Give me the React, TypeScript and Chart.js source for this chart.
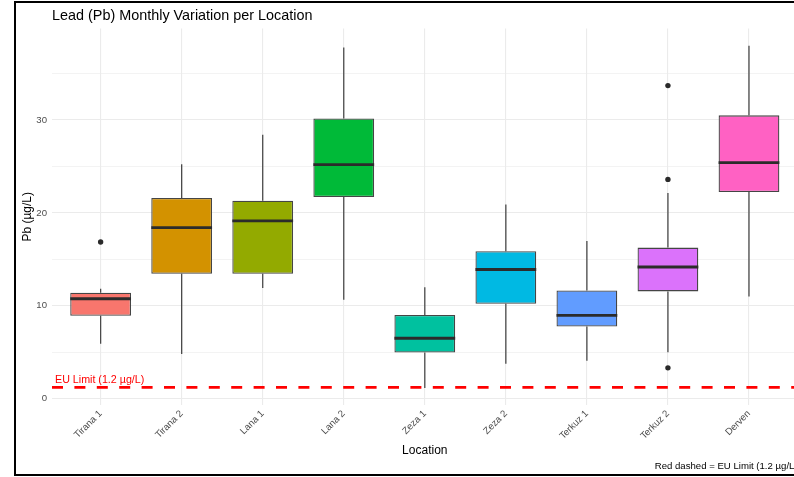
import React, { useEffect, useRef } from "react";
import { Chart, registerables } from "chart.js";

Chart.register(...registerables);

// ---------- data ----------
const LOCATIONS = ["Tirana 1", "Tirana 2", "Lana 1", "Lana 2", "Zeza 1", "Zeza 2", "Terkuz 1", "Terkuz 2", "Derven"];
const LOWER_WHISKER = [5.9, 4.8, 11.9, 10.65, 1.15, 3.74, 4.07, 5.0, 11.0];
const Q1 = [8.92, 13.45, 13.45, 21.7, 4.96, 10.2, 7.77, 11.54, 22.25];
const MEDIAN = [10.75, 18.4, 19.13, 25.2, 6.5, 13.9, 8.95, 14.17, 25.4];
const Q3 = [11.4, 21.6, 21.3, 30.17, 9.0, 15.86, 11.65, 16.26, 30.5];
const UPPER_WHISKER = [11.83, 25.24, 28.4, 37.8, 12.0, 20.9, 16.97, 22.15, 38.0];
const OUTLIER_LOCATION = [0, 7, 7, 7];
const OUTLIER_VALUE = [16.86, 33.7, 23.6, 3.31];
const FILL_COLORS = ["#F8766D", "#D39200", "#93AA00", "#00BA38", "#00C19F", "#00B9E3", "#619CFF", "#DB72FB", "#FF61C3"];
const EU_LIMIT = 1.2;
const Y_GRID_TICKS = [0, 5, 10, 15, 20, 25, 30, 35];
const Y_LABEL_TICKS = [0, 10, 20, 30];

const TITLE = "Lead (Pb) Monthly Variation per Location";
const X_TITLE = "Location";
const Y_TITLE = "Pb (µg/L)";
const CAPTION = "Red dashed = EU Limit (1.2 µg/L)";
const EU_LABEL = "EU Limit (1.2 µg/L)";

// scale ranges (ggplot-style expansion)
const X_MIN = -0.6;
const X_MAX = LOCATIONS.length - 1 + 0.6;
const Y_MIN = -0.69;
const Y_MAX = 39.84;

const FONT = "'Liberation Sans', Arial, Helvetica, sans-serif";
const CANVAS_W = 806;
const CANVAS_H = 477;

export default function App() {
  const ref = useRef<HTMLCanvasElement | null>(null);

  useEffect(() => {
    const canvas = ref.current;
    if (!canvas) return;

    const boxData = LOCATIONS.map((_, i) => ({ x: i, y: [Q1[i], Q3[i]] }));
    const whiskerData: { x: number; y: number | null }[] = [];
    LOCATIONS.forEach((_, i) => {
      whiskerData.push({ x: i, y: LOWER_WHISKER[i] });
      whiskerData.push({ x: i, y: Q1[i] });
      whiskerData.push({ x: i, y: null });
      whiskerData.push({ x: i, y: Q3[i] });
      whiskerData.push({ x: i, y: UPPER_WHISKER[i] });
      whiskerData.push({ x: i, y: null });
    });
    const outlierData = OUTLIER_VALUE.map((v, k) => ({ x: OUTLIER_LOCATION[k], y: v }));
    const euData = [
      { x: X_MIN, y: EU_LIMIT },
      { x: X_MAX, y: EU_LIMIT },
    ];

    const medianPlugin = {
      id: "medians",
      afterDatasetsDraw(chart: any) {
        const meta = chart.getDatasetMeta(0);
        const ys = chart.scales.y;
        const ctx = chart.ctx;
        ctx.save();
        ctx.strokeStyle = "#2b2b2b";
        ctx.lineWidth = 2.8;
        meta.data.forEach((el: any, i: number) => {
          const y = ys.getPixelForValue(MEDIAN[i]);
          ctx.beginPath();
          ctx.moveTo(el.x - el.width / 2, y);
          ctx.lineTo(el.x + el.width / 2, y);
          ctx.stroke();
        });
        ctx.restore();
      },
    };

    const textPlugin = {
      id: "texts",
      afterDraw(chart: any) {
        const ctx = chart.ctx;
        const area = chart.chartArea;
        const ys = chart.scales.y;
        ctx.save();
        // title
        ctx.fillStyle = "#000";
        ctx.font = `14.4px ${FONT}`;
        ctx.textAlign = "left";
        ctx.textBaseline = "alphabetic";
        ctx.fillText(TITLE, area.left, 19.5);
        // x title
        ctx.font = `12px ${FONT}`;
        ctx.textAlign = "center";
        ctx.fillText(X_TITLE, (area.left + area.right) / 2, 454);
        // y title
        ctx.save();
        ctx.translate(30.5, (area.top + area.bottom) / 2);
        ctx.rotate(-Math.PI / 2);
        ctx.textAlign = "center";
        ctx.fillText(Y_TITLE, 0, 0);
        ctx.restore();
        // caption
        ctx.font = `9.6px ${FONT}`;
        ctx.textAlign = "right";
        ctx.fillText(CAPTION, area.right, 468.5);
        // EU label
        ctx.fillStyle = "#FF0000";
        ctx.font = `10.7px ${FONT}`;
        ctx.textAlign = "left";
        ctx.fillText(EU_LABEL, area.left + 3, ys.getPixelForValue(EU_LIMIT) - 4);
        ctx.restore();
      },
    };

    const chart = new Chart(canvas, {
      type: "bar",
      data: {
        datasets: [
          {
            type: "bar",
            label: "box",
            data: boxData as any,
            backgroundColor: FILL_COLORS,
            borderColor: "#454545",
            borderWidth: 1.3,
            borderSkipped: false,
            barPercentage: 0.75,
            categoryPercentage: 1,
            order: 2,
          } as any,
          {
            type: "line",
            label: "whiskers",
            data: whiskerData as any,
            borderColor: "#4a4a4a",
            borderWidth: 1.3,
            pointRadius: 0,
            spanGaps: false,
            order: 3,
          } as any,
          {
            type: "scatter",
            label: "outliers",
            data: outlierData as any,
            backgroundColor: "#2a2a2a",
            borderWidth: 0,
            pointRadius: 2.7,
            order: 1,
          } as any,
          {
            type: "line",
            label: "eu",
            data: euData as any,
            borderColor: "#FF0000",
            borderWidth: 2.8,
            borderDash: [11, 11.4],
            pointRadius: 0,
            order: 0,
          } as any,
        ],
      },
      options: {
        responsive: false,
        maintainAspectRatio: false,
        animation: false,
        devicePixelRatio: 1,
        layout: { padding: { left: 0, top: 28.6, right: CANVAS_W - 797.6, bottom: 0 } },
        plugins: {
          legend: { display: false },
          tooltip: { enabled: false },
          title: { display: false },
        },
        scales: {
          x: {
            type: "linear",
            offset: false,
            min: X_MIN,
            max: X_MAX,
            afterBuildTicks: (s: any) => {
              s.ticks = LOCATIONS.map((_, i) => ({ value: i }));
            },
            afterFit: (s: any) => {
              s.height = 72;
            },
            ticks: {
              autoSkip: false,
              minRotation: 45,
              maxRotation: 45,
              padding: 3,
              color: "#4D4D4D",
              font: { family: FONT, size: 9.6 },
              callback: (v: any) => LOCATIONS[Number(v)] ?? "",
            },
            grid: { color: "#EBEBEB", lineWidth: 1.1, drawTicks: false, offset: false },
            border: { display: false },
          },
          y: {
            type: "linear",
            min: Y_MIN,
            max: Y_MAX,
            afterBuildTicks: (s: any) => {
              s.ticks = Y_GRID_TICKS.map((v) => ({ value: v }));
            },
            afterFit: (s: any) => {
              s.width = 52;
            },
            ticks: {
              autoSkip: false,
              padding: 5,
              color: "#4D4D4D",
              font: { family: FONT, size: 9.6 },
              callback: (v: any) => (Y_LABEL_TICKS.includes(Number(v)) ? String(v) : ""),
            },
            grid: {
              color: "#EBEBEB",
              lineWidth: (c: any) => (c.tick && Y_LABEL_TICKS.includes(c.tick.value) ? 1.1 : 0.6),
              drawTicks: false,
            },
            border: { display: false },
          },
        },
      } as any,
      plugins: [medianPlugin, textPlugin],
    });

    return () => chart.destroy();
  }, []);

  return (
    <div
      style={{
        position: "fixed",
        left: 0,
        top: 0,
        width: 794,
        height: 477,
        overflow: "hidden",
        background: "#fff",
      }}
    >
      <canvas
        ref={ref}
        width={CANVAS_W}
        height={CANVAS_H}
        style={{ position: "absolute", left: 0, top: 0, width: CANVAS_W, height: CANVAS_H }}
      />
      <div
        style={{
          position: "absolute",
          left: 14,
          top: 1,
          width: 900,
          height: 475,
          border: "2px solid #000",
          boxSizing: "border-box",
          pointerEvents: "none",
        }}
      />
    </div>
  );
}
